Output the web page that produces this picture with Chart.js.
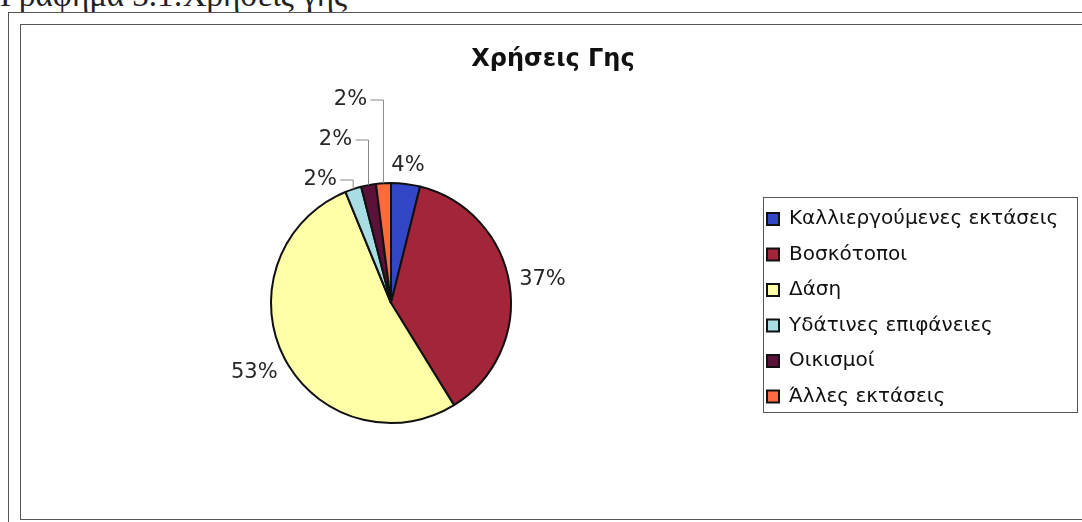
<!DOCTYPE html>
<html>
<head>
<meta charset="utf-8">
<script src="https://cdn.jsdelivr.net/npm/chart.js@4.4.1/dist/chart.umd.min.js"></script>
<style>
  html, body { margin: 0; padding: 0; background: #fff; }
  body { width: 1082px; height: 522px; position: relative; overflow: hidden; }
  #caption { position: absolute; left: 0; top: -21px; font: 33px/33px "Liberation Serif", "Times New Roman", serif; color: #222; white-space: nowrap; }
  #outer { position: absolute; left: 8px; top: 12px; width: 1100px; height: 540px; border: 1.5px solid #555; box-sizing: border-box; }
  #inner { position: absolute; left: 20px; top: 24px; width: 1100px; height: 496px; border: 1.5px solid #555; box-sizing: border-box; }
  #myChart { position: absolute; left: 0; top: 0; }
</style>
</head>
<body>
<div id="caption">Γράφημα 3.1:Χρήσεις γης</div>
<div id="outer"></div>
<div id="inner"></div>
<canvas id="myChart" width="1082" height="522"></canvas>
<script>
// land use categories and their share (%)
var categories = [
  "Καλλιεργούμενες εκτάσεις",
  "Βοσκότοποι",
  "Δάση",
  "Υδάτινες επιφάνειες",
  "Οικισμοί",
  "Άλλες εκτάσεις"
];
var shares = [3.9, 37.3, 52.6, 2.2, 2.0, 2.0];
var colors = ["#3346c8", "#a3253a", "#ffffa8", "#a8dde3", "#5a1238", "#ff6a40"];

var fontFamily = '"DejaVu Sans", Verdana, sans-serif';
var labelFont = '21px ' + fontFamily;

// put the pie, legend and title where the original sheet had them
var placeBoxes = {
  id: 'placeBoxes',
  afterLayout: function(chart) {
    var a = chart.chartArea;
    a.left = 270; a.right = 512; a.top = 182; a.bottom = 424;
    a.width = 242; a.height = 242;
    var lg = chart.legend;
    lg.left = 751.5; lg.top = 193.5;
    lg.right = lg.left + lg.width; lg.bottom = lg.top + lg.height;
  },
  afterDraw: function(chart) {
    var ctx = chart.ctx;
    ctx.save();
    ctx.strokeStyle = '#555';
    ctx.lineWidth = 1;
    ctx.strokeRect(763.5, 197.5, 314, 215);
    ctx.restore();
  }
};

// percentage labels, the small slices get stacked labels with leader lines
var pctLabels = {
  id: 'pctLabels',
  afterDatasetsDraw: function(chart) {
    var ctx = chart.ctx;
    var meta = chart.getDatasetMeta(0);
    var data = chart.data.datasets[0].data;
    var total = data.reduce(function(s, v) { return s + v; }, 0);
    var small = 0;
    ctx.save();
    ctx.font = labelFont;
    ctx.fillStyle = '#262626';
    ctx.textAlign = 'center';
    ctx.textBaseline = 'middle';
    meta.data.forEach(function(arc, i) {
      var pct = data[i] / total * 100;
      var txt = Math.round(pct) + '%';
      var mid = (arc.startAngle + arc.endAngle) / 2;
      var r = arc.outerRadius;
      var cx = arc.x, cy = arc.y;
      if (pct < 3) {
        var ex = cx + r * Math.cos(mid);
        var ey = cy + r * Math.sin(mid);
        var ly = cy - r - 3 - 40 * small;
        var lx = ex - 33;
        ctx.fillText(txt, lx, ly);
        ctx.beginPath();
        ctx.strokeStyle = '#888';
        ctx.lineWidth = 1;
        ctx.moveTo(lx + 20, ly);
        ctx.lineTo(ex, ly);
        ctx.lineTo(ex, ey);
        ctx.stroke();
        small++;
      } else {
        var w = ctx.measureText(txt).width / 2;
        var c = Math.cos(mid), s = Math.sin(mid);
        var R = r + 9 + w * Math.abs(c) + 8 * Math.abs(s);
        ctx.fillText(txt, cx + R * c, cy + R * s);
      }
    });
    ctx.restore();
  }
};

var ctx = document.getElementById("myChart");
var myChart = new Chart(ctx, {
  type: 'pie',
  data: {
    labels: categories,
    datasets: [{
      data: shares,
      backgroundColor: colors,
      borderColor: '#111',
      borderWidth: 2
    }]
  },
  options: {
    responsive: false,
    animation: false,
    devicePixelRatio: 1,
    layout: { padding: { left: 24, right: 0, top: 24, bottom: 0 } },
    plugins: {
      title: {
        display: true,
        text: 'Χρήσεις Γης',
        color: '#111',
        font: { family: fontFamily, size: 24, weight: 'bold' },
        padding: { top: 21, bottom: 0 }
      },
      legend: {
        position: 'right',
        align: 'start',
        labels: {
          color: '#111',
          font: { family: fontFamily, size: 20 },
          boxWidth: 12,
          boxHeight: 12,
          padding: 15.5
        }
      },
      tooltip: { enabled: false }
    }
  },
  plugins: [placeBoxes, pctLabels]
});
</script>
</body>
</html>
